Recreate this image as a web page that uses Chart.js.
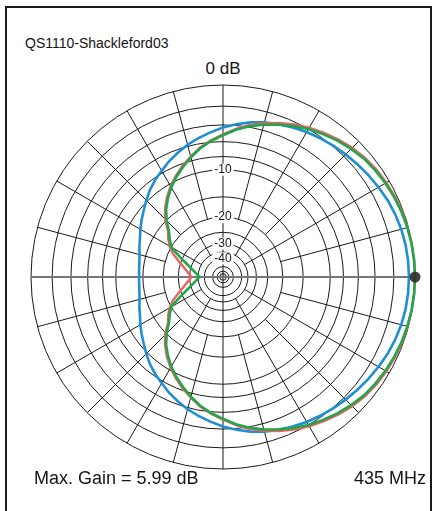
<!DOCTYPE html>
<html>
<head>
<meta charset="utf-8">
<script src="https://cdn.jsdelivr.net/npm/chart.js@4.4.1/dist/chart.umd.min.js"></script>
<style>
  html, body { margin: 0; padding: 0; background: #fff; }
  body { width: 436px; height: 511px; position: relative; overflow: hidden;
         font-family: "Liberation Sans", Arial, Helvetica, sans-serif; color: #141414; }
  #frame { position: absolute; left: 5px; top: 6px; width: 423px; height: 540px;
           border: 2px solid #1a1a1a; }
  .txt { position: absolute; white-space: nowrap; line-height: 1; }
  #title { left: 25px; top: 36px; font-size: 14px; }
  #zero  { left: 173px; width: 100px; top: 60px; font-size: 17px; text-align: center; }
  #gain  { left: 34px; top: 469px; font-size: 18px; }
  #freq  { right: 10px; top: 469px; font-size: 18px; }
  #plot  { position: absolute; left: 25px; top: 79px; }
</style>
</head>
<body>
<div id="frame"></div>
<div class="txt" id="title"></div>
<div class="txt" id="zero"></div>
<canvas id="plot" width="396" height="396"></canvas>
<div class="txt" id="gain"></div>
<div class="txt" id="freq"></div>

<script>
// Azimuth bearings in degrees, clockwise from the top of the plot (5 degree steps)
const bearings = [];
for (let b = 0; b < 360; b += 5) bearings.push(b);

// Relative field strength in dB (0 dB = maximum gain), one value per bearing
const patternBlue = [
  -4.3, -3.85, -3.45, -3.1, -2.85, -2.6, -2.35, -2.15, -1.95, -1.75, -1.55, -1.35,
  -1.15, -0.95, -0.8, -0.68, -0.6, -0.56, -0.55, -0.56, -0.6, -0.68, -0.8, -0.95,
  -1.15, -1.35, -1.55, -1.75, -1.95, -2.15, -2.35, -2.6, -2.85, -3.1, -3.45, -3.85,
  -4.3, -4.8, -5.3, -5.8, -6.4, -7.0, -7.7, -8.3, -9.0, -9.8, -10.6, -11.3,
  -12.0, -12.7, -13.2, -13.7, -14.0, -14.15, -14.2, -14.15, -14.0, -13.7, -13.2, -12.7,
  -12.0, -11.3, -10.6, -9.8, -9.0, -8.3, -7.7, -7.0, -6.4, -5.8, -5.3, -4.8];
const patternRed = [
  -5.1, -4.4, -3.75, -3.2, -2.7, -2.25, -1.85, -1.5, -1.15, -0.85, -0.6, -0.43,
  -0.3, -0.2, -0.12, -0.07, -0.03, -0.01, 0, -0.01, -0.03, -0.07, -0.12, -0.2,
  -0.3, -0.43, -0.6, -0.85, -1.15, -1.5, -1.85, -2.25, -2.7, -3.2, -3.75, -4.4,
  -5.1, -5.75, -6.5, -7.4, -8.3, -9.3, -10.4, -11.6, -13.0, -14.6, -16.9, -18.1,
  -19.5, -21.4, -24.0, -26.3, -28.1, -29.7, -31.0, -29.7, -28.1, -26.3, -24.0, -21.4,
  -19.5, -18.1, -16.9, -14.6, -13.0, -11.6, -10.4, -9.3, -8.3, -7.4, -6.5, -5.75];
const patternGreen = [
  -5.2, -4.5, -3.9, -3.35, -2.9, -2.45, -2.0, -1.65, -1.3, -1.0, -0.72, -0.55,
  -0.4, -0.28, -0.18, -0.1, -0.05, -0.01, 0, -0.01, -0.05, -0.1, -0.18, -0.28,
  -0.4, -0.55, -0.72, -1.0, -1.3, -1.65, -2.0, -2.45, -2.9, -3.35, -3.9, -4.5,
  -5.2, -5.85, -6.6, -7.5, -8.5, -9.5, -10.6, -11.9, -13.3, -15.1, -17.2, -18.6,
  -20.0, -23.9, -27.5, -30.4, -32.7, -34.6, -36.0, -34.6, -32.7, -30.4, -27.5, -23.9,
  -20.0, -18.6, -17.2, -15.1, -13.3, -11.9, -10.6, -9.5, -8.5, -7.5, -6.6, -5.85];

// Direction and level of the maximum-gain marker
const peakBearing = 90;
const peakLevel = 0;

// Grid rings (dB) and the ones that carry a label
const ringLevels = [0, -2, -4, -6, -8, -10, -15, -20, -25, -30, -35, -40, -50, -60, -70];
const labelledLevels = [-10, -20, -30, -40];

// Text
const titleText = 'QS1110-Shackleford03';
const scaleText = '0 dB';
const gainText = 'Max. Gain = 5.99 dB';
const freqText = '435 MHz';

document.getElementById('title').textContent = titleText;
document.getElementById('zero').textContent = scaleText;
document.getElementById('gain').textContent = gainText;
document.getElementById('freq').textContent = freqText;

// ARRL log-periodic radial scale: every 2 dB step shrinks the radius to 0.89
class ArrlRadialScale extends Chart.RadialLinearScale {
  getDistanceFromCenterForValue(value) {
    if (value === null || value === undefined || isNaN(value)) return 0;
    return this.drawingArea * Math.pow(0.89, -Math.min(value, 0) / 2);
  }
  getValueForDistanceFromCenter(distance) {
    if (!distance) return this.min;
    return -2 * Math.log(distance / this.drawingArea) / Math.log(0.89);
  }
}
ArrlRadialScale.id = 'arrlRadial';
ArrlRadialScale.defaults = Chart.RadialLinearScale.defaults;
Chart.register(ArrlRadialScale);

// Radial spokes: [bearing, outer level, inner level]
const spokes = [];
for (let b = 15; b < 360; b += 15) {
  if (b % 90 === 0) continue;
  if (b % 30 === 0) spokes.push([b, 0, -35]);
  else spokes.push([b, 0, -20]);
}

const gridPlugin = {
  id: 'arrlGrid',
  beforeDatasetsDraw(chart) {
    const s = chart.scales.r;
    const ctx = chart.ctx;
    const pos = (bearing, level) => {
      const d = s.getDistanceFromCenterForValue(level);
      const a = bearing * Math.PI / 180;
      return [s.xCenter + d * Math.sin(a), s.yCenter - d * Math.cos(a)];
    };
    ctx.save();
    ctx.strokeStyle = '#1a1a1a';
    ctx.lineWidth = 1;
    ctx.beginPath();
    spokes.forEach(([b, l0, l1]) => {
      const p0 = pos(b, l0), p1 = pos(b, l1);
      ctx.moveTo(p0[0], p0[1]);
      ctx.lineTo(p1[0], p1[1]);
    });
    const top = pos(0, 0), bot = pos(180, 0);
    ctx.moveTo(top[0], top[1]);
    ctx.lineTo(bot[0], bot[1]);
    ctx.stroke();
    const lft = pos(270, 0), rgt = pos(90, 0);
    ctx.strokeStyle = '#767676';
    ctx.lineWidth = 2;
    ctx.beginPath();
    ctx.moveTo(lft[0], lft[1]);
    ctx.lineTo(rgt[0], rgt[1]);
    ctx.stroke();
    ctx.restore();
  }
};

const labels = bearings.map(b => String(b));
const peakData = bearings.map(b => (b === peakBearing ? peakLevel : null));

new Chart(document.getElementById('plot'), {
  type: 'radar',
  data: {
    labels,
    datasets: [
      { label: 'peak', order: 0, data: peakData, showLine: false, borderWidth: 0,
        pointRadius: c => (c.raw === null ? 0 : 5.5),
        pointBackgroundColor: 'rgba(45,45,45,0.9)', pointBorderWidth: 0 },
      { label: 'green', order: 1, data: patternGreen, borderColor: '#22a64c', borderWidth: 2.6, fill: false, pointRadius: 0, tension: 0 },
      { label: 'red', order: 2, data: patternRed, borderColor: '#ef6062', borderWidth: 2.4, fill: false, pointRadius: 0, tension: 0 },
      { label: 'blue', order: 3, data: patternBlue, borderColor: '#1f8fd4', borderWidth: 2.6, fill: false, pointRadius: 0, tension: 0 }
    ]
  },
  options: {
    responsive: false,
    animation: false,
    events: [],
    plugins: { legend: { display: false }, tooltip: { enabled: false }, title: { display: false } },
    scales: {
      r: {
        type: 'arrlRadial',
        min: -70,
        max: 0,
        startAngle: 0,
        angleLines: { display: false },
        pointLabels: { display: false },
        grid: { circular: true, color: '#1a1a1a', lineWidth: 1 },
        afterBuildTicks: scale => { scale.ticks = ringLevels.map(v => ({ value: v })); },
        ticks: {
          z: 1,
          color: '#141414',
          font: { family: '"Liberation Sans", Arial, sans-serif', size: 12 },
          showLabelBackdrop: true,
          backdropColor: c => (labelledLevels.includes(c.tick.value) ? '#ffffff' : 'rgba(0,0,0,0)'),
          backdropPadding: { x: 2, y: 0 },
          callback: v => (labelledLevels.includes(v) ? String(v) : '')
        }
      }
    }
  },
  plugins: [gridPlugin]
});
</script>
</body>
</html>
